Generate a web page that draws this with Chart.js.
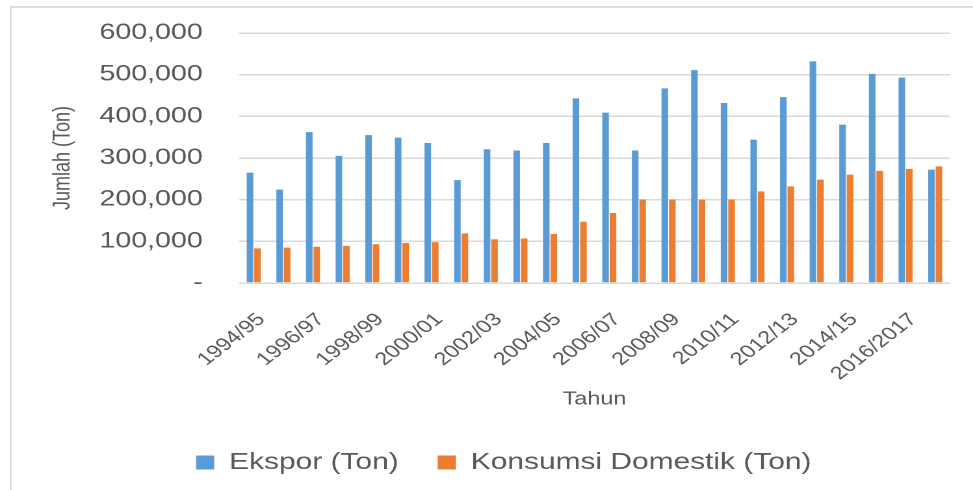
<!DOCTYPE html>
<html lang="id">
<head>
  <meta charset="UTF-8" />
  <title>Ekspor dan Konsumsi Domestik</title>
  <script src="https://cdn.jsdelivr.net/npm/chart.js@4"></script>
  <style>
    html, body { margin: 0; padding: 0; background: #fff; overflow: hidden; }
    #bingkai { position: absolute; left: 10px; top: 6px; width: 963px; height: 484px; border-left: 2px solid #dcdcdc; border-top: 2px solid #dcdcdc; }
    /* gambar asli tampak melebar ke samping, jadi kanvas ditarik 1.3x */
    #wadah { position: absolute; left: 0; top: 0; width: 761px; height: 490px; transform: scaleX(1.3); transform-origin: 0 0; }
  </style>
</head>
<body>
  <div id="bingkai"></div>
  <div id="wadah"><canvas id="grafik" width="761" height="490"></canvas></div>

  <script>
    // data
    const tahun = ['1994/95', '1995/96', '1996/97', '1997/98', '1998/99', '1999/00', '2000/01', '2001/02',
      '2002/03', '2003/04', '2004/05', '2005/06', '2006/07', '2007/08', '2008/09', '2009/10',
      '2010/11', '2011/12', '2012/13', '2013/14', '2014/15', '2015/16', '2016/2017', '2017/18'];
    const ekspor = [265000, 224000, 362000, 305000, 355000, 349000, 336000, 247000,
      321000, 318000, 336000, 443000, 409000, 318000, 467000, 511000,
      432000, 344000, 446000, 532000, 380000, 502000, 493000, 272000];
    const domestik = [83000, 85000, 87000, 89000, 93000, 96000, 98000, 119000,
      105000, 107000, 118000, 147000, 168000, 200000, 200000, 200000,
      200000, 220000, 232000, 248000, 260000, 269000, 274000, 280000];

    const abu = '#595959';
    const huruf = "'Liberation Sans', Arial, sans-serif";

    // geser legenda sedikit ke kanan, seperti di gambar asli
    const geserLegenda = {
      id: 'geserLegenda',
      afterLayout(c) { c.legend.left += 5.5; c.legend.right += 5.5; }
    };

    new Chart(document.getElementById('grafik'), {
      type: 'bar',
      data: {
        labels: tahun,
        datasets: [
          { label: 'Ekspor (Ton)', data: ekspor, backgroundColor: '#5b9bd5' },
          { label: 'Konsumsi Domestik (Ton)', data: domestik, backgroundColor: '#ed7d31' }
        ]
      },
      options: {
        responsive: false,
        animation: false,
        devicePixelRatio: 2,
        datasets: { bar: { categoryPercentage: 0.505, barPercentage: 0.88 } },
        layout: { padding: { left: 20, right: 17, top: 33, bottom: 6 } },
        scales: {
          x: {
            afterFit: s => { s.height = 138; },
            grid: { display: false, drawTicks: false },
            border: { display: false },
            ticks: {
              autoSkip: false, minRotation: 45, maxRotation: 45, padding: 26, labelOffset: 6,
              color: abu, font: { family: huruf, size: 18 },
              callback: function (v, i) { return i % 2 === 0 ? this.getLabelForValue(v) : ''; }
            },
            title: { display: true, text: 'Tahun', color: abu, font: { family: huruf, size: 18 }, padding: { top: 30, bottom: 10.8 } }
          },
          y: {
            min: 0, max: 600000,
            afterFit: s => { s.width = 163.8; },
            grid: { color: '#d9d9d9', lineWidth: 1.5, drawTicks: true, tickLength: 8, tickColor: 'rgba(0,0,0,0)' },
            border: { display: false },
            ticks: {
              stepSize: 100000, padding: 19.8, color: abu, font: { family: huruf, size: 22 },
              callback: v => v === 0 ? '-' : v.toLocaleString('en-US')
            },
            title: { display: true, text: 'Jumlah (Ton)', color: abu, font: { family: huruf, size: 18 }, padding: 17.7 }
          }
        },
        plugins: {
          tooltip: { enabled: false },
          legend: {
            position: 'bottom',
            labels: { boxWidth: 14, boxHeight: 14, padding: 30, color: abu, font: { family: huruf, size: 23 } }
          }
        }
      },
      plugins: [geserLegenda]
    });
  </script>
</body>
</html>
